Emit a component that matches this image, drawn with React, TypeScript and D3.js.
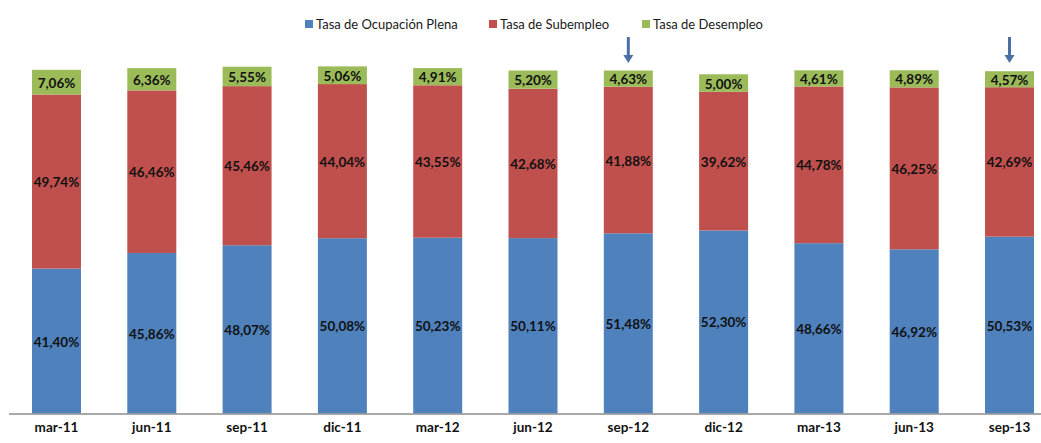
import React from "react";
import * as d3 from "d3";

const categories = ["mar-11", "jun-11", "sep-11", "dic-11", "mar-12", "jun-12", "sep-12", "dic-12", "mar-13", "jun-13", "sep-13"];
const ocupacionPlena = [41.40, 45.86, 48.07, 50.08, 50.23, 50.11, 51.48, 52.30, 48.66, 46.92, 50.53];
const subempleo = [49.74, 46.46, 45.46, 44.04, 43.55, 42.68, 41.88, 39.62, 44.78, 46.25, 42.69];
const desempleo = [7.06, 6.36, 5.55, 5.06, 4.91, 5.20, 4.63, 5.00, 4.61, 4.89, 4.57];
const seriesNames = ["Tasa de Ocupación Plena", "Tasa de Subempleo", "Tasa de Desempleo"];
const seriesColors = ["#4F81BD", "#C0504D", "#9BBB59"];
const arrowCategories = ["sep-12", "sep-13"];

const W = 1041;
const H = 443;
const FONT = "Lato, 'Open Sans', sans-serif";

export default function App() {
  const x = d3.scaleBand<string>().domain(categories).range([32, 1034]).paddingInner(0.486).paddingOuter(0);
  const y = d3.scaleLinear().domain([0, 100]).range([413.5, 63.5]);

  const rows = categories.map((c, i) => ({ cat: c, s0: ocupacionPlena[i], s1: subempleo[i], s2: desempleo[i] }));
  const stack = d3.stack<any>().keys(["s0", "s1", "s2"]);
  const layers = stack(rows);

  const fmt = (v: number) => v.toFixed(2).replace(".", ",") + "%";

  const legendX = [305, 489, 642];

  return (
    <svg width={W} height={H} style={{ position: "absolute", left: 0, top: 0, background: "#fff" }}>
      {layers.map((layer, li) => (
        <g key={li}>
          {layer.map((d, i) => {
            const x0 = x(categories[i])!;
            const yTop = y(d[1]);
            const yBot = y(d[0]);
            return (
              <g key={i}>
                <rect x={x0} y={yTop} width={x.bandwidth()} height={yBot - yTop} fill={seriesColors[li]} />
                <text
                  x={x0 + x.bandwidth() / 2}
                  y={(yTop + yBot) / 2 + 0.5}
                  textAnchor="middle"
                  dominantBaseline="central"
                  fontFamily={FONT}
                  fontWeight="bold"
                  fontSize={13.5}
                  fill="#111"
                >
                  {fmt(d[1] - d[0])}
                </text>
              </g>
            );
          })}
        </g>
      ))}
      <line x1={9} x2={W} y1={y(0) + 0.5} y2={y(0) + 0.5} stroke="#8c8c8c" strokeWidth={1.5} />
      {categories.map((c) => (
        <text
          key={c}
          x={x(c)! + x.bandwidth() / 2}
          y={432}
          textAnchor="middle"
          fontFamily={FONT}
          fontWeight="bold"
          fontSize={13.5}
          fill="#111"
        >
          {c}
        </text>
      ))}
      {seriesNames.map((n, i) => (
        <g key={n}>
          <rect x={legendX[i]} y={20} width={8} height={8} fill={seriesColors[i]} />
          <text x={legendX[i] + 11} y={28.5} fontFamily={FONT} fontSize={13} fill="#1a1a1a">
            {n}
          </text>
        </g>
      ))}
      {arrowCategories.map((c) => {
        const cx = x(c)! + x.bandwidth() / 2;
        return (
          <g key={c}>
            <line x1={cx} x2={cx} y1={37} y2={56} stroke="#4A6FA5" strokeWidth={3} />
            <path d={`M${cx - 5},${55} L${cx + 5},${55} L${cx},${63} Z`} fill="#4A6FA5" />
          </g>
        );
      })}
    </svg>
  );
}
